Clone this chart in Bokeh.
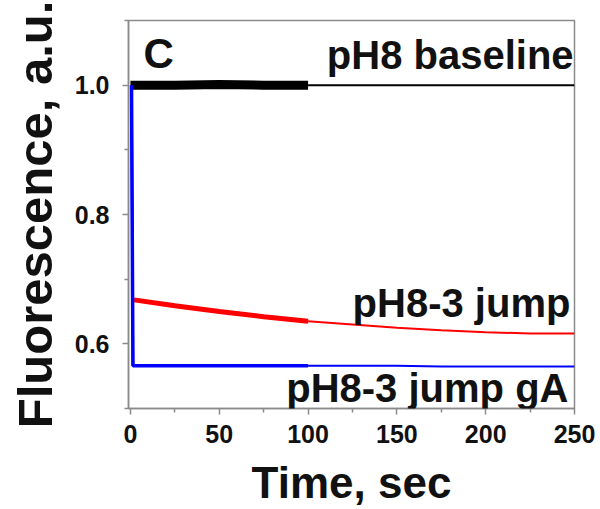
from bokeh.plotting import figure
from bokeh.models import Range1d, FixedTicker, Label
from bokeh.embed import file_html
from bokeh.resources import INLINE

# ---- data ----
t_baseline = [0, 25, 50, 75, 100, 125, 150, 175, 200, 225, 250]
baseline = [1.000, 1.000, 1.001, 1.000, 1.000, 1.000, 1.000, 1.000, 1.000, 1.000, 1.000]

t_jump = [2, 25, 50, 75, 100, 125, 150, 175, 200, 225, 250]
jump = [0.668, 0.659, 0.650, 0.642, 0.635, 0.630, 0.625, 0.621, 0.618, 0.616, 0.616]

t_gA = [0.6, 1.4, 25, 50, 75, 100, 125, 150, 175, 200, 225, 250]
jump_gA = [1.000, 0.566, 0.566, 0.566, 0.566, 0.566, 0.566, 0.566, 0.565, 0.565, 0.565, 0.565]

noisy_end = 100  # recording was noisier up to t = 100 s

x_ticks = [0, 50, 100, 150, 200, 250]
x_minor = [25, 75, 125, 175, 225]
y_ticks = [0.6, 0.8, 1.0]
y_minor = [0.5, 0.7, 0.9, 1.1]

FONT = "Liberation Sans"
GRAY = "#8a8a8a"

p = figure(width=600, height=509, output_backend="svg", toolbar_location=None,
           x_range=Range1d(-1.1, 250), y_range=Range1d(0.5, 1.1),
           min_border_left=128, min_border_right=26, min_border_top=20,
           min_border_bottom=97)
p.grid.visible = False
p.outline_line_color = GRAY
p.outline_line_width = 1.5
p.background_fill_color = "white"
p.border_fill_color = "white"


def split(ts, vs):
    a_t, a_v, b_t, b_v = [], [], [], []
    for t, v in zip(ts, vs):
        if t <= noisy_end:
            a_t.append(t); a_v.append(v)
        if t >= noisy_end:
            b_t.append(t); b_v.append(v)
    return a_t, a_v, b_t, b_v


for ts, vs, col, wn, wq in [(t_baseline, baseline, "black", 9, 2),
                            (t_jump, jump, "#ff0000", 5, 2),
                            (t_gA, jump_gA, "#0000ff", 3.5, 2)]:
    a_t, a_v, b_t, b_v = split(ts, vs)
    p.line(b_t, b_v, line_color=col, line_width=wq)
    p.line(a_t, a_v, line_color=col, line_width=wn)

# blue vertical drop drawn thin
p.line(t_gA[:2], jump_gA[:2], line_color="#0000ff", line_width=2.5)

for ax in (p.xaxis[0], p.yaxis[0]):
    ax.axis_line_color = GRAY
    ax.axis_line_width = 1.5
    ax.major_tick_line_color = GRAY
    ax.minor_tick_line_color = GRAY
    ax.major_tick_line_width = 1.5
    ax.minor_tick_line_width = 1.5
    ax.major_tick_out = 6
    ax.major_tick_in = 0
    ax.minor_tick_out = 4
    ax.minor_tick_in = 0
    ax.major_label_text_font = FONT
    ax.major_label_text_font_style = "bold"
    ax.major_label_text_font_size = "25px"
    ax.major_label_text_color = "#111111"
    ax.axis_label_text_font = FONT
    ax.axis_label_text_font_style = "bold"
    ax.axis_label_text_color = "#111111"

p.xaxis.ticker = FixedTicker(ticks=x_ticks, minor_ticks=x_minor)
p.yaxis.ticker = FixedTicker(ticks=y_ticks, minor_ticks=y_minor)
p.yaxis.major_label_overrides = {0.6: "0.6", 0.8: "0.8", 1.0: "1.0"}
p.xaxis.axis_label = "Time, sec"
p.yaxis.axis_label = "Fluorescence, a.u."
p.xaxis.axis_label_text_font_size = "44px"
p.yaxis.axis_label_text_font_size = "49px"
p.xaxis.major_label_standoff = 10
p.yaxis.major_label_standoff = 13
p.xaxis.axis_label_standoff = 12
p.yaxis.axis_label_standoff = 10

label_kw = dict(text_font=FONT, text_font_style="bold", text_color="#111111",
                text_baseline="alphabetic")
p.add_layout(Label(x=7.3, y=1.049, text="C", text_font_size="42px", **label_kw))
p.add_layout(Label(x=249.5, y=1.047, text="pH8 baseline", text_align="right",
                   text_font_size="40px", **label_kw))
p.add_layout(Label(x=247.7, y=0.663, text="pH8-3 jump", text_align="right",
                   text_font_size="40px", **label_kw))
p.add_layout(Label(x=246.6, y=0.531, text="pH8-3 jump gA", text_align="right",
                   text_font_size="40px", **label_kw))

open("out.html", "w").write(file_html(p, INLINE))
